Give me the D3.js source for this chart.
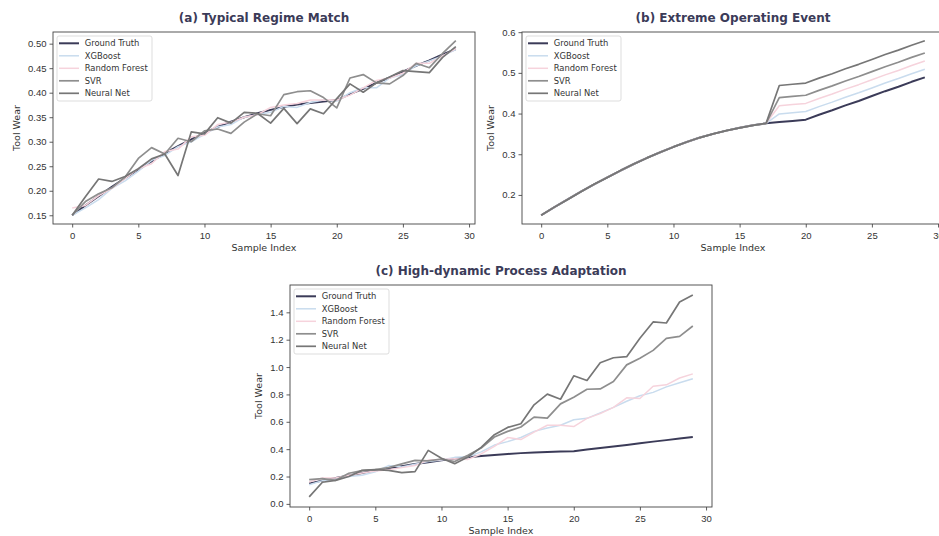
<!DOCTYPE html>
<html>
<head>
<meta charset="utf-8">
<script src="https://cdn.jsdelivr.net/npm/d3@7"></script>
<style>
  body { margin: 0; background: #fff; }
  svg { display: block; font-family: "DejaVu Sans", sans-serif; }
</style>
</head>
<body>
<div id="viz"></div>
<script>
(function() {
  var sampleIndex, groundTruth, seriesNames, seriesColors, seriesWidths;
  var xgbA, rfA, svrA, nnA, xgbB, rfB, svrB, nnB, xgbC, rfC, svrC, nnC;
  var xTicks, yTicksA, yTicksB, yTicksC, panels, svg, drawPanel;

  sampleIndex = d3.range(30);

  // shared ground truth wear curve
  groundTruth = [0.150, 0.170, 0.189, 0.208, 0.226, 0.243, 0.260, 0.276, 0.291, 0.305,
                 0.318, 0.330, 0.341, 0.350, 0.358, 0.365, 0.371, 0.376, 0.379, 0.382,
                 0.385, 0.397, 0.408, 0.420, 0.431, 0.443, 0.455, 0.466, 0.478, 0.489];

  seriesNames = ["Ground Truth", "XGBoost", "Random Forest", "SVR", "Neural Net"];
  seriesColors = ["#3b3b58", "#c9dcee", "#f6d3dc", "#8e8e8e", "#767676"];
  seriesWidths = [2, 1.5, 1.5, 1.7, 1.7];

  // (a) typical regime
  xgbA = [0.150, 0.165, 0.182, 0.205, 0.220, 0.240, 0.262, 0.272, 0.290, 0.300,
          0.315, 0.330, 0.335, 0.350, 0.355, 0.360, 0.372, 0.370, 0.380, 0.385,
          0.383, 0.400, 0.410, 0.410, 0.430, 0.437, 0.455, 0.465, 0.475, 0.488];
  rfA = [0.165, 0.170, 0.190, 0.205, 0.225, 0.245, 0.255, 0.280, 0.285, 0.310,
         0.313, 0.335, 0.340, 0.350, 0.355, 0.370, 0.375, 0.378, 0.385, 0.385,
         0.385, 0.395, 0.410, 0.425, 0.430, 0.440, 0.460, 0.460, 0.475, 0.490];
  svrA = [0.150, 0.178, 0.194, 0.206, 0.228, 0.266, 0.288, 0.275, 0.307, 0.300,
          0.322, 0.326, 0.317, 0.340, 0.357, 0.353, 0.396, 0.402, 0.404, 0.390,
          0.369, 0.430, 0.437, 0.420, 0.418, 0.435, 0.460, 0.451, 0.480, 0.506];
  nnA = [0.150, 0.188, 0.224, 0.219, 0.229, 0.245, 0.265, 0.275, 0.231, 0.320,
         0.316, 0.349, 0.338, 0.360, 0.358, 0.338, 0.368, 0.337, 0.367, 0.357,
         0.388, 0.418, 0.401, 0.420, 0.432, 0.445, 0.443, 0.441, 0.472, 0.494];

  // (b) extreme event after sample 17
  xgbB = [0.150, 0.170, 0.189, 0.208, 0.226, 0.243, 0.260, 0.276, 0.291, 0.305,
          0.318, 0.330, 0.341, 0.350, 0.358, 0.365, 0.371, 0.376, 0.399, 0.402,
          0.405, 0.417, 0.428, 0.440, 0.451, 0.463, 0.475, 0.486, 0.498, 0.509];
  rfB = [0.150, 0.170, 0.189, 0.208, 0.226, 0.243, 0.260, 0.276, 0.291, 0.305,
         0.318, 0.330, 0.341, 0.350, 0.358, 0.365, 0.371, 0.376, 0.419, 0.422,
         0.425, 0.437, 0.448, 0.460, 0.471, 0.483, 0.495, 0.506, 0.518, 0.529];
  svrB = [0.150, 0.170, 0.189, 0.208, 0.226, 0.243, 0.260, 0.276, 0.291, 0.305,
          0.318, 0.330, 0.341, 0.350, 0.358, 0.365, 0.371, 0.376, 0.439, 0.442,
          0.445, 0.457, 0.468, 0.480, 0.491, 0.503, 0.515, 0.526, 0.538, 0.549];
  nnB = [0.150, 0.170, 0.189, 0.208, 0.226, 0.243, 0.260, 0.276, 0.291, 0.305,
         0.318, 0.330, 0.341, 0.350, 0.358, 0.365, 0.371, 0.376, 0.469, 0.472,
         0.475, 0.487, 0.498, 0.510, 0.521, 0.533, 0.545, 0.556, 0.568, 0.579];

  // (c) high-dynamic process
  xgbC = [0.140, 0.170, 0.180, 0.200, 0.210, 0.235, 0.280, 0.270, 0.290, 0.310,
          0.320, 0.340, 0.345, 0.380, 0.430, 0.455, 0.485, 0.530, 0.555, 0.575,
          0.615, 0.625, 0.665, 0.705, 0.750, 0.790, 0.815, 0.855, 0.885, 0.915];
  rfC = [0.160, 0.190, 0.190, 0.210, 0.225, 0.240, 0.250, 0.265, 0.280, 0.320,
         0.325, 0.330, 0.325, 0.365, 0.420, 0.485, 0.470, 0.525, 0.575, 0.575,
         0.565, 0.625, 0.660, 0.705, 0.775, 0.770, 0.860, 0.870, 0.920, 0.950];
  svrC = [0.177, 0.185, 0.172, 0.224, 0.243, 0.250, 0.265, 0.292, 0.318, 0.315,
          0.328, 0.310, 0.355, 0.408, 0.489, 0.530, 0.562, 0.634, 0.627, 0.731,
          0.780, 0.838, 0.840, 0.894, 1.016, 1.064, 1.122, 1.210, 1.224, 1.300];
  nnC = [0.051, 0.158, 0.172, 0.200, 0.245, 0.250, 0.245, 0.228, 0.236, 0.391,
         0.333, 0.294, 0.343, 0.413, 0.506, 0.559, 0.586, 0.724, 0.802, 0.765,
         0.936, 0.902, 1.032, 1.068, 1.076, 1.210, 1.330, 1.322, 1.475, 1.526];

  xTicks = [0, 5, 10, 15, 20, 25, 30];
  yTicksA = [0.15, 0.20, 0.25, 0.30, 0.35, 0.40, 0.45, 0.50];
  yTicksB = [0.2, 0.3, 0.4, 0.5, 0.6];
  yTicksC = [0.0, 0.2, 0.4, 0.6, 0.8, 1.0, 1.2, 1.4];

  panels = [
    { title: "(a) Typical Regime Match", left: 53, top: 32, width: 422, height: 192,
      series: [groundTruth, xgbA, rfA, svrA, nnA], yTicks: yTicksA, fmt: ".2f", yLabelOff: 36 },
    { title: "(b) Extreme Operating Event", left: 522, top: 32, width: 422, height: 192,
      series: [groundTruth, xgbB, rfB, svrB, nnB], yTicks: yTicksB, fmt: ".1f", yLabelOff: 31 },
    { title: "(c) High-dynamic Process Adaptation", left: 290, top: 285, width: 422, height: 222,
      series: [groundTruth, xgbC, rfC, svrC, nnC], yTicks: yTicksC, fmt: ".1f", yLabelOff: 31 }
  ];

  svg = d3.select("#viz").append("svg").attr("width", 939).attr("height", 536);

  drawPanel = function(p, k) {
    var g, x, y, lo, hi, pad, xPad, line, xAxis, yAxis, leg, clipId;
    lo = d3.min(p.series, function(s) { return d3.min(s); });
    hi = d3.max(p.series, function(s) { return d3.max(s); });
    pad = (hi - lo) * 0.05;
    xPad = 29 * 0.05;
    x = d3.scaleLinear().domain([-xPad, 29 + xPad]).range([0, p.width]);
    y = d3.scaleLinear().domain([lo - pad, hi + pad]).range([p.height, 0]);

    g = svg.append("g").attr("transform", "translate(" + p.left + "," + p.top + ")");
    clipId = "clip" + k;
    g.append("clipPath").attr("id", clipId).append("rect")
      .attr("width", p.width).attr("height", p.height);

    line = d3.line().x(function(d, i) { return x(sampleIndex[i]); }).y(function(d) { return y(d); });

    g.append("g").attr("clip-path", "url(#" + clipId + ")")
      .selectAll("path").data(p.series).enter().append("path")
      .attr("d", line)
      .attr("fill", "none")
      .attr("stroke", function(d, i) { return seriesColors[i]; })
      .attr("stroke-width", function(d, i) { return seriesWidths[i]; })
      .attr("stroke-linejoin", "round");

    xAxis = g.append("g").attr("transform", "translate(0," + p.height + ")")
      .call(d3.axisBottom(x).tickValues(xTicks).tickSize(3.5).tickPadding(4.5).tickSizeOuter(0));
    yAxis = g.append("g")
      .call(d3.axisLeft(y).tickValues(p.yTicks).tickFormat(d3.format(p.fmt)).tickSize(3.5).tickPadding(3).tickSizeOuter(0));
    [xAxis, yAxis].forEach(function(a) {
      a.select(".domain").remove();
      a.selectAll("line").attr("stroke", "#333").attr("stroke-width", 0.8);
      a.selectAll("text").attr("fill", "#333").style("font-size", "9.5px");
    });

    g.append("rect").attr("width", p.width).attr("height", p.height)
      .attr("fill", "none").attr("stroke", "#444").attr("stroke-width", 0.9);

    g.append("text").attr("x", p.width / 2).attr("y", -10)
      .attr("text-anchor", "middle").attr("fill", "#3b3b58")
      .style("font-size", "12px").style("font-weight", "bold").text(p.title);
    g.append("text").attr("x", p.width / 2).attr("y", p.height + 27)
      .attr("text-anchor", "middle").attr("fill", "#333")
      .style("font-size", "9.5px").text("Sample Index");
    g.append("text").attr("transform", "translate(" + (-p.yLabelOff) + "," + (p.height / 2) + ") rotate(-90)")
      .attr("text-anchor", "middle").attr("dy", "0.35em").attr("fill", "#333")
      .style("font-size", "9.5px").text("Tool Wear");

    leg = g.append("g").attr("transform", "translate(4,4)");
    leg.append("rect").attr("width", 95).attr("height", 65).attr("rx", 2)
      .attr("fill", "#fff").attr("fill-opacity", 0.85).attr("stroke", "#d4d4d4").attr("stroke-width", 0.8);
    leg.selectAll("line.h").data(seriesNames).enter().append("line")
      .attr("x1", 2).attr("x2", 22)
      .attr("y1", function(d, i) { return 7.3 + i * 12.5; })
      .attr("y2", function(d, i) { return 7.3 + i * 12.5; })
      .attr("stroke", function(d, i) { return seriesColors[i]; })
      .attr("stroke-width", function(d, i) { return seriesWidths[i]; });
    leg.selectAll("text").data(seriesNames).enter().append("text")
      .attr("x", 27.7).attr("y", function(d, i) { return 7.3 + i * 12.5; })
      .attr("dy", "0.35em").attr("fill", "#333").style("font-size", "8.4px")
      .text(function(d) { return d; });
  };

  panels.forEach(drawPanel);
}).call(this);
</script>
</body>
</html>
